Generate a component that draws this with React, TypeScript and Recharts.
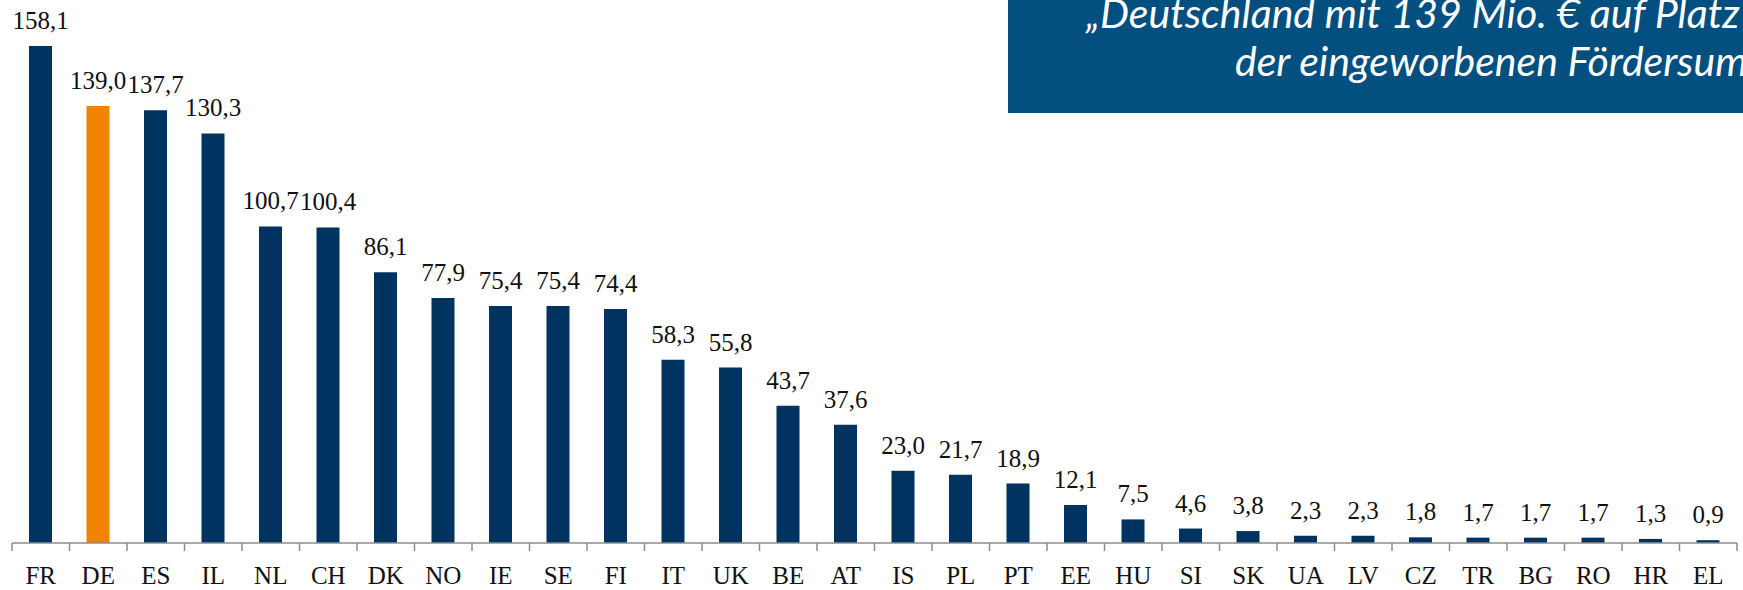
import { BarChart, Bar, XAxis, YAxis, Cell, LabelList } from 'recharts';

const countries = [
  'FR','DE','ES','IL','NL','CH','DK','NO','IE','SE',
  'FI','IT','UK','BE','AT','IS','PL','PT','EE','HU',
  'SI','SK','UA','LV','CZ','TR','BG','RO','HR','EL',
];
const amounts = [
  158.1, 139.0, 137.7, 130.3, 100.7, 100.4, 86.1, 77.9, 75.4, 75.4,
  74.4, 58.3, 55.8, 43.7, 37.6, 23.0, 21.7, 18.9, 12.1, 7.5,
  4.6, 3.8, 2.3, 2.3, 1.8, 1.7, 1.7, 1.7, 1.3, 0.9,
];
const highlight = 'DE';
const titleLines = ['„Deutschland mit 139 Mio. € auf Platz 2', 'der eingeworbenen Fördersumme“'];

const W = 1743;
const H = 590;
const mLeft = 12;
const mRight = 6;
const band = (W - mLeft - mRight) / countries.length;

const navy = '#00335f';
const orange = '#f08300';
const serif = '"Liberation Serif", serif';

const data = countries.map((c, i) => ({ c, v: amounts[i] }));

const fmt = (v: any) => Number(v).toFixed(1).replace('.', ',');

function Tick(props: any) {
  const { x, y, payload, index } = props;
  const last = index === countries.length - 1;
  return (
    <g>
      <line x1={x - band / 2} x2={x - band / 2} y1={y} y2={y + 8} stroke="#8c8c8c" strokeWidth={1.5} />
      {last && <line x1={x + band / 2} x2={x + band / 2} y1={y} y2={y + 8} stroke="#8c8c8c" strokeWidth={1.5} />}
      <text x={x} y={y + 41} textAnchor="middle" fill="#111" fontSize={25} fontFamily={serif}>
        {payload.value}
      </text>
    </g>
  );
}

export default function App() {
  return (
    <div style={{ position: 'absolute', top: 0, left: 0, width: W, height: H, overflow: 'hidden', background: '#fff' }}>
      <BarChart width={W} height={H} data={data} margin={{ top: 46, right: mRight, left: mLeft, bottom: 0 }}>
        <XAxis
          dataKey="c"
          height={H - 543}
          interval={0}
          tickSize={0}
          tickMargin={0}
          tickLine={false}
          axisLine={{ stroke: '#8c8c8c', strokeWidth: 1.5 }}
          tick={<Tick />}
        />
        <YAxis hide domain={[0, 'dataMax']} />
        <Bar dataKey="v" barSize={23} isAnimationActive={false}>
          {data.map((d) => (
            <Cell key={d.c} fill={d.c === highlight ? orange : navy} />
          ))}
          <LabelList
            dataKey="v"
            position="top"
            offset={17}
            formatter={fmt}
            fill="#111"
            fontSize={25}
            fontFamily={serif}
          />
        </Bar>
      </BarChart>
      <div
        style={{
          position: 'absolute', left: 1008, top: 0, width: 800, height: 113,
          background: '#034f80', color: '#fff', fontFamily: 'Lato, sans-serif',
          fontStyle: 'italic', fontSize: 41, whiteSpace: 'nowrap',
        }}
      >
        <div style={{ position: 'absolute', left: 1086 - 1008, top: -8, lineHeight: '41px' }}>{titleLines[0]}</div>
        <div style={{ position: 'absolute', left: 1235 - 1008, top: 40, lineHeight: '41px' }}>{titleLines[1]}</div>
      </div>
    </div>
  );
}
